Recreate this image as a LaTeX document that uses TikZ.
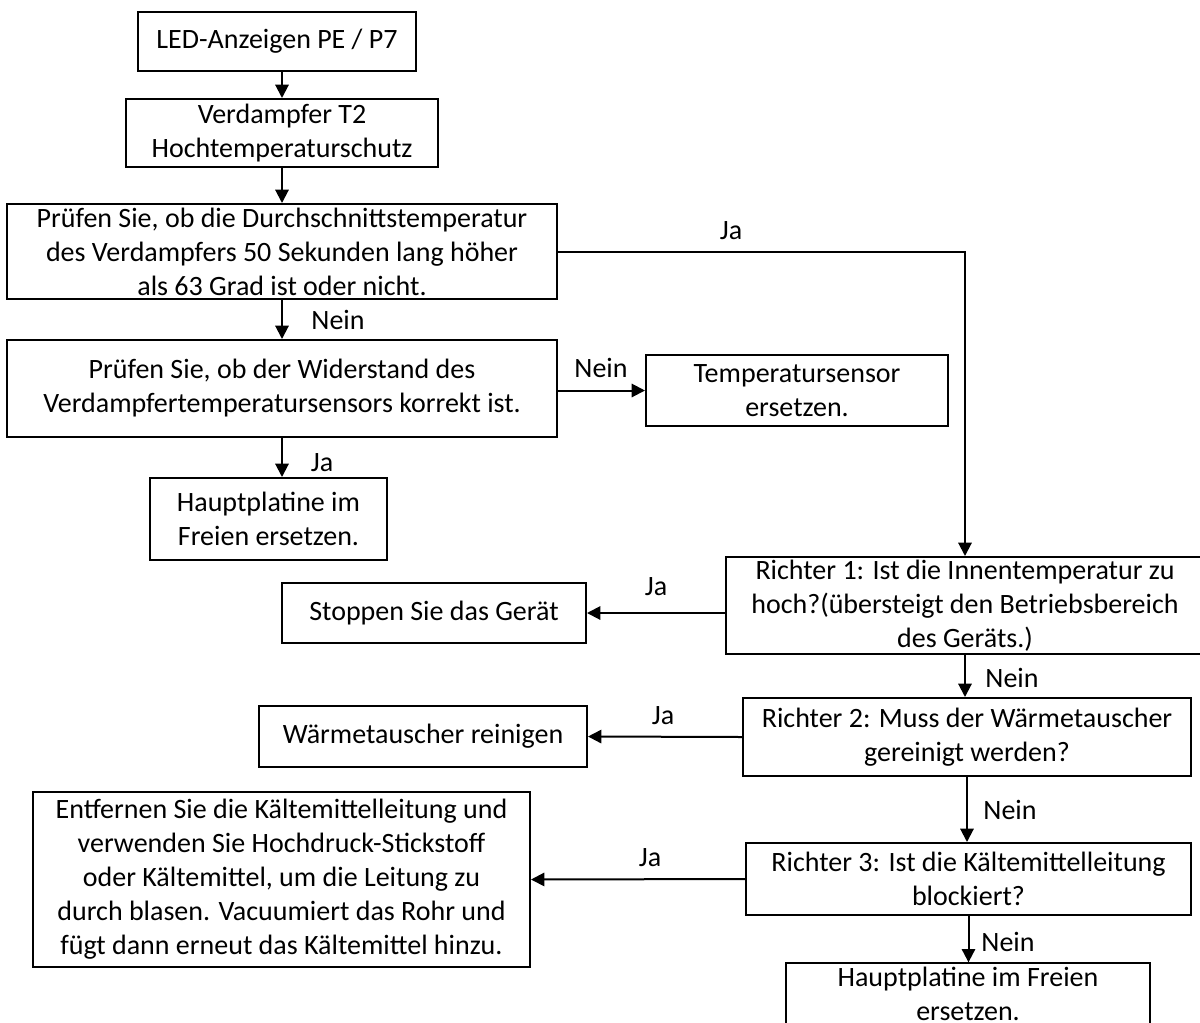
\documentclass[tikz,border=0pt]{standalone}
\usepackage{fontspec}
\setmainfont{Carlito}
\usetikzlibrary{arrows.meta,positioning}
\tikzset{
  kasten/.style={draw,line width=1.5pt,align=center,inner sep=0pt,font=\fontsize{21}{25.5}\selectfont},
  pfeil/.style={-{Triangle[length=10pt,width=10pt]},line width=1.5pt},
  antwort/.style={font=\fontsize{21}{24}\selectfont,inner sep=0pt}
}

\begin{document}
\begin{tikzpicture}[x=0.75pt,y=-0.75pt]
  \useasboundingbox (0,0) rectangle (1200,1022);
  % linke Spalte
  \node[kasten,minimum width=208.5pt,minimum height=44.25pt] (led) at (277,41.5) {LED-Anzeigen PE / P7};
  \node[kasten,minimum width=234pt,minimum height=51pt] (verd) at (282,133) {Verdampfer T2\\Hochtemperaturschutz};
  \node[kasten,minimum width=412.5pt,minimum height=71.25pt] (pruef1) at (282,251.5) {Prüfen Sie, ob die Durchschnittstemperatur\\des Verdampfers 50 Sekunden lang höher\\als 63 Grad ist oder nicht.};
  \node[kasten,minimum width=412.5pt,minimum height=72.75pt] (pruef2) at (282,388.5) {Prüfen Sie, ob der Widerstand des\\Verdampfertemperatursensors korrekt ist.};
  \node[kasten,minimum width=226.5pt,minimum height=53.25pt] (sensor) at (797,390.5) {Temperatursensor\\ersetzen.};
  \node[kasten,minimum width=177.75pt,minimum height=61.5pt] (haupt1) at (268.5,519) {Hauptplatine im\\Freien ersetzen.};
  % rechte Spalte
  \node[kasten,minimum width=358.5pt,minimum height=72.75pt] (r1) at (965,605.5) {Richter 1: Ist die Innentemperatur zu\\hoch?(übersteigt den Betriebsbereich\\des Geräts.)};
  \node[kasten,minimum width=228pt,minimum height=45pt] (stop) at (434,613) {Stoppen Sie das Gerät};
  \node[kasten,minimum width=336pt,minimum height=58.5pt] (r2) at (967,737) {Richter 2: Muss der Wärmetauscher\\gereinigt werden?};
  \node[kasten,minimum width=246pt,minimum height=45.75pt] (waerme) at (423,736.5) {Wärmetauscher reinigen};
  \node[kasten,minimum width=333.75pt,minimum height=54pt] (r3) at (968.5,879) {Richter 3: Ist die Kältemittelleitung\\blockiert?};
  \node[kasten,minimum width=372.75pt,minimum height=131.25pt] (entf) at (281.5,879.5) {Entfernen Sie die Kältemittelleitung und\\verwenden Sie Hochdruck-Stickstoff\\oder Kältemittel, um die Leitung zu\\durch blasen. Vacuumiert das Rohr und\\fügt dann erneut das Kältemittel hinzu.};
  \node[kasten,minimum width=273pt,minimum height=46pt] (haupt2) at (968,994) {Hauptplatine im Freien\\ersetzen.};
  % Verbindungen
  \draw[pfeil] (verd.north |- led.south) -- (verd.north);
  \draw[pfeil] (verd) -- (pruef1);
  \draw[pfeil] (pruef1) -- (pruef2);
  \draw[pfeil] (pruef1.east) -| (r1.north);
  \draw[pfeil] (pruef2.east |- sensor.west) -- (sensor.west);
  \draw[pfeil] (pruef2.south) -- (pruef2.south |- haupt1.north);
  \draw[pfeil] (r1.west |- stop.east) -- (stop.east);
  \draw[pfeil] (r1.south) -- (r1.south |- r2.north);
  \draw[pfeil] (r2.west) -- (waerme.east);
  \draw[pfeil] (r2.south) -- (r2.south |- r3.north);
  \draw[pfeil] (r3.west) -- (entf.east);
  \draw[pfeil] (r3.south) -- (r3.south |- haupt2.north);
  % Beschriftungen
  \node[antwort] (ja1) at (731,231) {Ja};
  \node[antwort] (nein1) at (338,320) {Nein};
  \node[antwort] (nein2) at (601,368) {Nein};
  \node[antwort] (ja2) at (322,463) {Ja};
  \node[antwort] (ja3) at (656,587) {Ja};
  \node[antwort] (nein3) at (1012,678) {Nein};
  \node[antwort] (ja4) at (663,716) {Ja};
  \node[antwort] (nein4) at (1010,810) {Nein};
  \node[antwort] (ja5) at (650,858) {Ja};
  \node[antwort] (nein5) at (1008,942) {Nein};
\end{tikzpicture}
\end{document}
